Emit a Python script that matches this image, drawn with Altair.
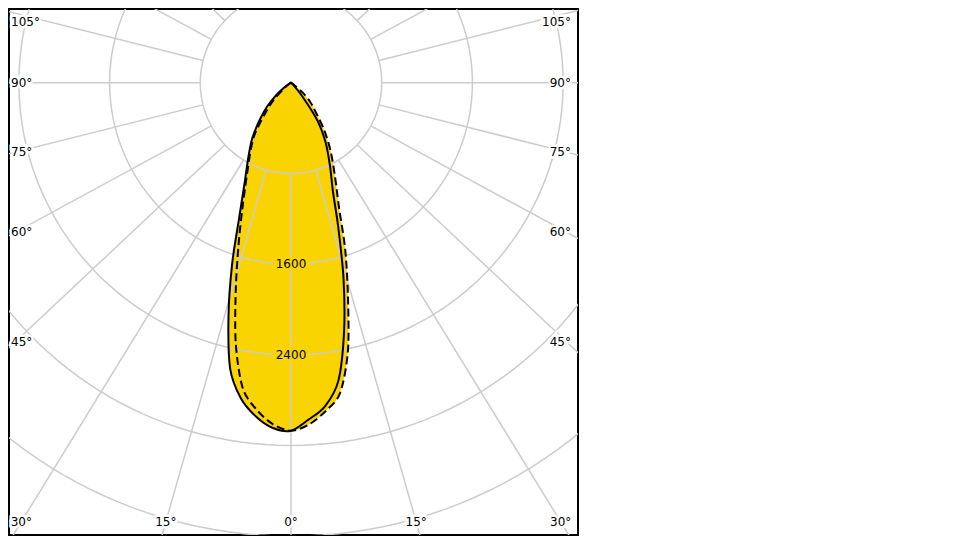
import altair as alt
import pandas as pd

# ---------------- data ----------------
# gamma angle in degrees (0 = straight down, negative = left half)
ANGLES = [-180, -65, -60, -55, -50, -45, -40, -35, -30, -25, -21, -18, -15, -12,
          -9, -6, -3, 0, 3, 6, 9, 12, 15, 18, 21, 25, 30, 35, 40, 45, 50, 55,
          60, 65, 180]
# luminous intensity (cd/klm) of the solid plane (C0-C180)
SOLID = [0, 0, 15, 70, 170, 300, 430, 595, 750, 965, 1275, 1680, 2130, 2580,
         2820, 2960, 3050, 3070, 2975, 2870, 2665, 2250, 1790, 1355, 1035, 815,
         612, 403, 145, 30, 0, 0, 0, 0, 0]
# luminous intensity of the dashed plane (C90-C270)
DASHED = [0, 0, 0, 20, 80, 220, 360, 560, 720, 930, 1200, 1495, 1880, 2345,
          2725, 2900, 3017, 3070, 3019, 2914, 2770, 2416, 1939, 1547, 1183, 920,
          700, 510, 340, 240, 130, 30, 0, 0, 0]

RING_VALUES = [800, 1600, 2400, 3200, 4000]
RING_LABELS = [1600, 2400]
SPOKE_ANGLES = list(range(-165, 181, 15))
ANGLE_LABELS = [0, 15, 30, 45, 60, 75, 90, 105]

# ---------------- layout constants ----------------
YELLOW = "#FAD400"
GRID = "#cccccc"
FONT = "DejaVu Sans"
FS = 12
K = 90.7 / 800.0          # px per cd
CX, CY = 291.0, 82.7      # page position of the pole
PAD = 1
VX0, VY0 = 8 + PAD, 8 + PAD
VX1, VY1 = 578.0, 535.0
W = int(VX1 - VX0)
H = int(VY1 - VY0)
XDOM = [(VX0 - CX) / K, (VX0 + W - CX) / K]
YDOM = [-(VY0 + H - CY) / K, (CY - VY0) / K]
SQUASH = 0.94             # vertical squash of the angle grid lines
SIDE_SQUASH = 0.96        # same, for the placing of the side labels
LAB_X = 270 / K           # horizontal offset at which side labels sit on their line
LAB_XA = 280 / K          # anchor of side labels
LAB_YB = (521.7 - CY) / K # bottom labels
LAB_YTOP = (CY - 21.7) / K

xs = alt.Scale(domain=XDOM, nice=False, zero=False)
ys = alt.Scale(domain=YDOM, nice=False, zero=False)
X = lambda f: alt.X(f, type="quantitative", scale=xs, axis=None)
Y = lambda f: alt.Y(f, type="quantitative", scale=ys, axis=None)

n = len(ANGLES)
curve_df = pd.DataFrame({
    "angle": ANGLES * 2,
    "cd": SOLID + DASHED,
    "plane": ["C0-C180"] * n + ["C90-C270"] * n,
    "idx": list(range(n)) * 2,
})

curve_base = alt.Chart(curve_df).transform_calculate(
    x="datum.cd * sin(datum.angle * PI / 180)",
    y="-datum.cd * cos(datum.angle * PI / 180)",
)
INTERP = "cardinal-closed"

fill = curve_base.mark_line(
    fill=YELLOW, stroke="transparent", interpolate=INTERP, tension=0.1, clip=True
).encode(x=X("x"), y=Y("y"), detail="plane:N", order="idx:Q")

solid = curve_base.transform_filter("datum.plane == 'C0-C180'").mark_line(
    color="black", strokeWidth=2, interpolate=INTERP, tension=0.1, clip=True
).encode(x=X("x"), y=Y("y"), order="idx:Q")

dashed = curve_base.transform_filter("datum.plane == 'C90-C270'").mark_line(
    color="black", strokeWidth=2, strokeDash=[8, 4], interpolate=INTERP, tension=0.1, clip=True
).encode(x=X("x"), y=Y("y"), order="idx:Q")

# rings
ring_rows = [{"r": r, "t": t} for r in RING_VALUES for t in range(0, 361, 2)]
rings = alt.Chart(pd.DataFrame(ring_rows)).transform_calculate(
    x="datum.r * sin(datum.t * PI / 180)",
    y="-datum.r * cos(datum.t * PI / 180)",
).mark_line(color=GRID, strokeWidth=1.5, clip=True).encode(
    x=X("x"), y=Y("y"), detail="r:N", order="t:Q"
)

# spokes
spokes = alt.Chart(pd.DataFrame({"angle": SPOKE_ANGLES})).transform_calculate(
    ad=f"atan2(sin(datum.angle * PI / 180), {SQUASH} * cos(datum.angle * PI / 180))"
).transform_calculate(
    x1=f"{RING_VALUES[0]} * sin(datum.ad)",
    y1=f"-{RING_VALUES[0]} * cos(datum.ad)",
    x2="8000 * sin(datum.ad)",
    y2="-8000 * cos(datum.ad)",
).mark_rule(color=GRID, strokeWidth=1.5, clip=True).encode(
    x=X("x1"), y=Y("y1"), x2="x2:Q", y2="y2:Q"
)

# intensity labels on the 0° line
ring_lab = alt.Chart(pd.DataFrame({"v": RING_LABELS})).transform_calculate(
    y="-datum.v", x="0", label="format(datum.v, 'd')"
)
ring_halo = ring_lab.mark_text(
    font=FONT, fontSize=FS, stroke=YELLOW, strokeWidth=6, color=YELLOW, baseline="middle"
).encode(x=X("x"), y=Y("y"), text="label:N")
ring_text = ring_lab.mark_text(
    font=FONT, fontSize=FS, color="black", baseline="middle"
).encode(x=X("x"), y=Y("y"), text="label:N")

# angle labels
lab_rows = [{"a": 0, "side": 0}]
for a in ANGLE_LABELS[1:]:
    lab_rows += [{"a": a, "side": -1}, {"a": a, "side": 1}]
ang_base = alt.Chart(pd.DataFrame(lab_rows)).transform_calculate(
    ad=f"atan2(sin(datum.a * PI / 180), {SQUASH} * cos(datum.a * PI / 180))",
    ads=f"atan2(sin(datum.a * PI / 180), {SIDE_SQUASH} * cos(datum.a * PI / 180))",
    label="datum.a + '°'",
).transform_calculate(
    x=f"datum.a >= 45 ? datum.side * {LAB_XA} : datum.side * {LAB_YB} * tan(datum.ad)",
    y=f"datum.a >= 45 ? min(-{LAB_X} * cos(datum.ads) / sin(datum.ads), {LAB_YTOP}) : -{LAB_YB}",
)


def ang_layer(filt, align):
    b = ang_base.transform_filter(filt)
    halo = b.mark_text(font=FONT, fontSize=FS, stroke="white", strokeWidth=5,
                       color="white", align=align, baseline="middle").encode(
        x=X("x"), y=Y("y"), text="label:N")
    txt = b.mark_text(font=FONT, fontSize=FS, color="black", align=align,
                      baseline="middle").encode(x=X("x"), y=Y("y"), text="label:N")
    return [halo, txt]


ang_layers = (ang_layer("datum.a < 45", "center")
              + ang_layer("datum.a >= 45 && datum.side < 0", "left")
              + ang_layer("datum.a >= 45 && datum.side > 0", "right"))

chart = alt.layer(
    fill, rings, spokes, solid, dashed, ring_halo, ring_text, *ang_layers
).properties(
    width=W, height=H, padding=PAD, autosize=alt.AutoSizeParams(type="none")
).configure_view(stroke="black", strokeWidth=2)

chart.save("out.html", embed_options={"renderer": "svg", "actions": False})
